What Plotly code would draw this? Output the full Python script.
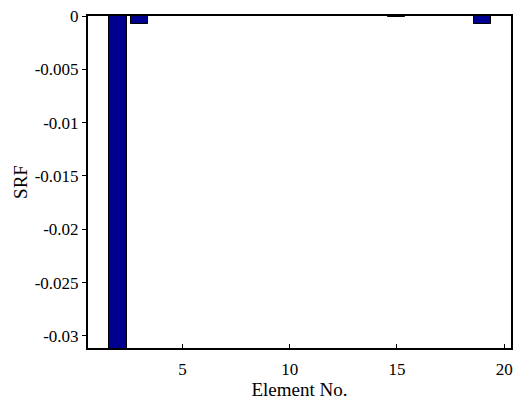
import plotly.graph_objects as go

elements = list(range(1, 21))
srf = [0.0, -0.0350, -0.00075, -0.00002, -0.00002, -0.00002, -0.00002, -0.00002,
       -0.00002, -0.00002, -0.00002, -0.00002, -0.00002, -0.00002, -0.00008,
       -0.00002, -0.00002, -0.00002, -0.00075, -0.00002]

y_tickvals = [0, -0.005, -0.01, -0.015, -0.02, -0.025, -0.03]
y_ticktext = ["0", "-0.005", "-0.01", "-0.015", "-0.02", "-0.025", "-0.03"]
x_tickvals = [5, 10, 15, 20]

serif = "'Times New Roman', 'Liberation Serif', serif"
font = dict(family=serif, size=16, color="black")

fig = go.Figure()
fig.add_trace(go.Bar(
    x=elements, y=srf, width=0.8,
    marker=dict(color="#000090", line=dict(color="black", width=1)),
    cliponaxis=True,
))

fig.update_layout(
    width=520, height=411,
    margin=dict(l=88, r=7, t=16, b=63),
    plot_bgcolor="white", paper_bgcolor="white",
    showlegend=False,
    font=font,
    bargap=0,
)
fig.update_xaxes(
    range=[0.6, 20.32], tickvals=x_tickvals, ticktext=[str(v) for v in x_tickvals],
    showline=True, linecolor="black", linewidth=2, mirror=True,
    ticks="inside", ticklen=4, tickcolor="black", showgrid=False, zeroline=False,
    title=dict(text="Element No.", font=dict(family=serif, size=19, color="black"), standoff=2),
    tickfont=dict(family=serif, size=17, color="black"),
    ticklabelstandoff=5,
)
fig.update_yaxes(
    range=[-0.03113, 0], tickvals=y_tickvals, ticktext=y_ticktext,
    showline=True, linecolor="black", linewidth=2, mirror=True,
    ticks="outside", ticklen=4, tickcolor="black", showgrid=False, zeroline=False,
    title=dict(text="SRF", font=dict(family=serif, size=19, color="black"), standoff=2),
    tickfont=dict(family=serif, size=17, color="black"),
)
fig.write_html("out.html")
